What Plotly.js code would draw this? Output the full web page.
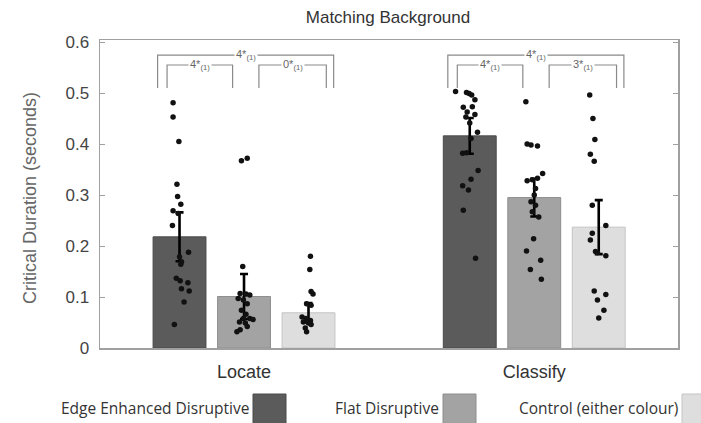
<!DOCTYPE html>
<html><head><meta charset="utf-8">
<script src="https://cdn.plot.ly/plotly-3.0.1.min.js"></script>
<style>html,body{margin:0;padding:0;background:#fff}#chart{width:701px;height:423px}</style>
</head><body><div id="chart"></div>
<script>
// ---------- data ----------
const groups = ['Locate', 'Classify'];
const conditions = ['Edge Enhanced Disruptive', 'Flat Disruptive', 'Control (either colour)'];
const meanLocate = [0.218, 0.101, 0.069];
const meanClassify = [0.416, 0.295, 0.237];
const errLocate = [0.048, 0.044, 0.019];
const errClassify = [0.035, 0.037, 0.053];
const yTicks = [0, 0.1, 0.2, 0.3, 0.4, 0.5, 0.6];
const yTickText = ['0', '0.1', '0.2', '0.3', '0.4', '0.5', '0.6'];

// individual observations (seconds) and their horizontal jitter
const locEdge = [0.481,0.453,0.405,0.321,0.297,0.282,0.269,0.264,0.240,0.188,0.179,0.169,0.164,0.137,0.132,0.128,0.116,0.112,0.090,0.046];
const locEdgeJitter = [-0.10,-0.10,-0.01,-0.04,-0.03,0.02,-0.10,-0.02,-0.11,0.14,0,0.03,0.02,-0.05,0.01,0.13,0.03,0.15,0.07,-0.08];
const locFlat = [0.367,0.372,0.160,0.107,0.106,0.104,0.097,0.094,0.087,0.074,0.066,0.058,0.058,0.056,0.051,0.049,0.042,0.032,0.036];
const locFlatJitter = [-0.04,0.05,-0.02,-0.06,0.03,0.09,-0.09,-0.01,0.05,-0.04,0.03,-0.01,0.09,0.14,-0.07,0.02,0.05,-0.11,-0.06];
const locCtrl = [0.180,0.154,0.111,0.106,0.087,0.084,0.061,0.058,0.051,0.049,0.046,0.039,0.032,0.054];
const locCtrlJitter = [0.03,0.02,0.04,0.07,-0.03,0.04,-0.10,-0.04,-0.08,0,0.04,-0.05,-0.03,0.03];
const clsEdge = [0.503,0.501,0.499,0.496,0.487,0.472,0.473,0.463,0.458,0.453,0.441,0.423,0.411,0.382,0.383,0.348,0.331,0.318,0.310,0.270,0.176];
const clsEdgeJitter = [-0.22,-0.05,-0.01,0.03,0.08,-0.10,0.04,-0.04,0.08,-0.06,0,0.12,0.02,-0.11,-0.05,0.13,0.02,-0.11,-0.02,-0.10,0.09];
const clsFlat = [0.483,0.400,0.398,0.396,0.342,0.333,0.328,0.330,0.313,0.300,0.287,0.280,0.267,0.257,0.214,0.190,0.172,0.154,0.135];
const clsFlatJitter = [-0.13,-0.11,-0.05,0.05,0.13,0.05,-0.11,-0.03,0.02,0,-0.05,0.02,-0.03,0.07,-0.01,-0.12,0.10,-0.06,0.11];
const clsCtrl = [0.496,0.450,0.409,0.380,0.366,0.280,0.240,0.225,0.212,0.189,0.187,0.181,0.112,0.105,0.094,0.074,0.059];
const clsCtrlJitter = [-0.14,-0.09,-0.06,-0.13,-0.07,-0.10,0.11,-0.10,-0.13,-0.05,-0.02,0.11,-0.07,0.11,-0.02,0.08,0];

// significance labels: [outer (edge vs control), edge vs flat, flat vs control]
const statLocate = ['4*', '4*', '0*'];
const statClassify = ['4*', '4*', '3*'];
const statSub = '(1)';

// ---------- styling / layout ----------
const barColors = ['#5b5b5b', '#a3a3a3', '#dedede'];
const barEdges = ['#4a4a4a', '#8e8e8e', '#c4c4c4'];
const groupBase = [1, 5.5];
const FONT = 'Liberation Sans, Arial, sans-serif';
const W = 701, H = 423, L = 100, R = 23, T = 40, B = 75;
const pw = W - L - R, ph = H - T - B;
const px = v => (v - L) / pw;
const py = v => (H - B - v) / ph;

const traces = [];
for (let i = 0; i < 3; i++) {
  traces.push({
    type: 'bar',
    x: groupBase.map(b => b + i),
    y: [meanLocate[i], meanClassify[i]],
    width: 0.82,
    marker: {color: barColors[i], line: {color: barEdges[i], width: 1}},
    error_y: {type: 'data', array: [errLocate[i], errClassify[i]], visible: true,
              color: '#000', thickness: 2.6, width: 4},
    showlegend: false, hoverinfo: 'skip'
  });
}
const pts = [
  [locEdge, locEdgeJitter, 0, 0], [locFlat, locFlatJitter, 0, 1], [locCtrl, locCtrlJitter, 0, 2],
  [clsEdge, clsEdgeJitter, 1, 0], [clsFlat, clsFlatJitter, 1, 1], [clsCtrl, clsCtrlJitter, 1, 2]
];
pts.forEach(([vals, jit, g, c]) => {
  traces.push({
    type: 'scatter', mode: 'markers',
    x: vals.map((v, k) => groupBase[g] + c + jit[k]),
    y: vals,
    marker: {color: '#111', size: 5.5},
    showlegend: false, hoverinfo: 'skip', cliponaxis: false
  });
});

const shapes = [];
const annotations = [];
// brackets
const yb = 0.510, yOuter = 0.5745, yInner = 0.555;
const brackets = [[-0.34, 2.39, yOuter, 0], [-0.193, 0.823, yInner, 1], [1.231, 2.276, yInner, 2]];
[statLocate, statClassify].forEach((labels, g) => {
  brackets.forEach(([a, b, yt, k]) => {
    const x0 = groupBase[g] + a, x1 = groupBase[g] + b;
    shapes.push({type: 'path', xref: 'x', yref: 'y',
      path: `M ${x0} ${yb} L ${x0} ${yt} L ${x1} ${yt} L ${x1} ${yb}`,
      line: {color: '#8a8a8a', width: 1.2}});
    annotations.push({xref: 'x', yref: 'y', x: (x0 + x1) / 2, y: yt, showarrow: false,
      text: labels[k] + '<sub>' + statSub + '</sub>', bgcolor: '#fff', borderpad: 1,
      font: {family: FONT, size: 11, color: '#666'}, xanchor: 'center', yanchor: 'middle'});
  });
});

// y title
annotations.push({xref: 'paper', yref: 'paper', x: px(30), y: py(198), textangle: -90,
  text: 'Critical Duration (seconds)', showarrow: false, xanchor: 'center', yanchor: 'middle',
  font: {family: FONT, size: 18, color: '#666'}});

// legend (text then swatch)
const swatchX = [253, 443, 682];
conditions.forEach((name, i) => {
  shapes.push({type: 'rect', xref: 'paper', yref: 'paper',
    x0: px(swatchX[i]), x1: px(swatchX[i] + 33), y0: py(394), y1: py(428),
    fillcolor: barColors[i], line: {color: barEdges[i], width: 1}});
  annotations.push({xref: 'paper', yref: 'paper', x: px(swatchX[i] - 2), y: py(408),
    text: name, showarrow: false, xanchor: 'right', yanchor: 'middle',
    font: {family: 'Open Sans, sans-serif', size: 15.5, color: '#333'}});
});

const layout = {
  width: W, height: H,
  margin: {l: L, r: R, t: T, b: B},
  paper_bgcolor: '#fff', plot_bgcolor: '#fff',
  showlegend: false,
  title: {text: 'Matching Background', x: px(388), xref: 'paper', xanchor: 'center',
          y: 1 - 17 / H, yanchor: 'middle', font: {family: FONT, size: 17, color: '#333'}},
  xaxis: {range: [-0.233, 8.729], tickvals: groupBase.map(b => b + 1), ticktext: groups,
          showline: true, linecolor: '#a0a0a0', linewidth: 1.5, mirror: true, ticks: '',
          showgrid: false, zeroline: false, ticklabelstandoff: 7,
          tickfont: {family: FONT, size: 18, color: '#333'}},
  yaxis: {range: [0, 0.604], tickvals: yTicks, ticktext: yTickText,
          showline: true, linecolor: '#a0a0a0', linewidth: 1.5, mirror: 'ticks',
          ticks: 'inside', ticklen: 5, tickcolor: '#a0a0a0', tickwidth: 1,
          showgrid: false, zeroline: false, ticklabelstandoff: 6,
          tickfont: {family: FONT, size: 17, color: '#444'}},
  shapes: shapes, annotations: annotations
};
Plotly.newPlot('chart', traces, layout, {displayModeBar: false, staticPlot: true});
</script></body></html>
